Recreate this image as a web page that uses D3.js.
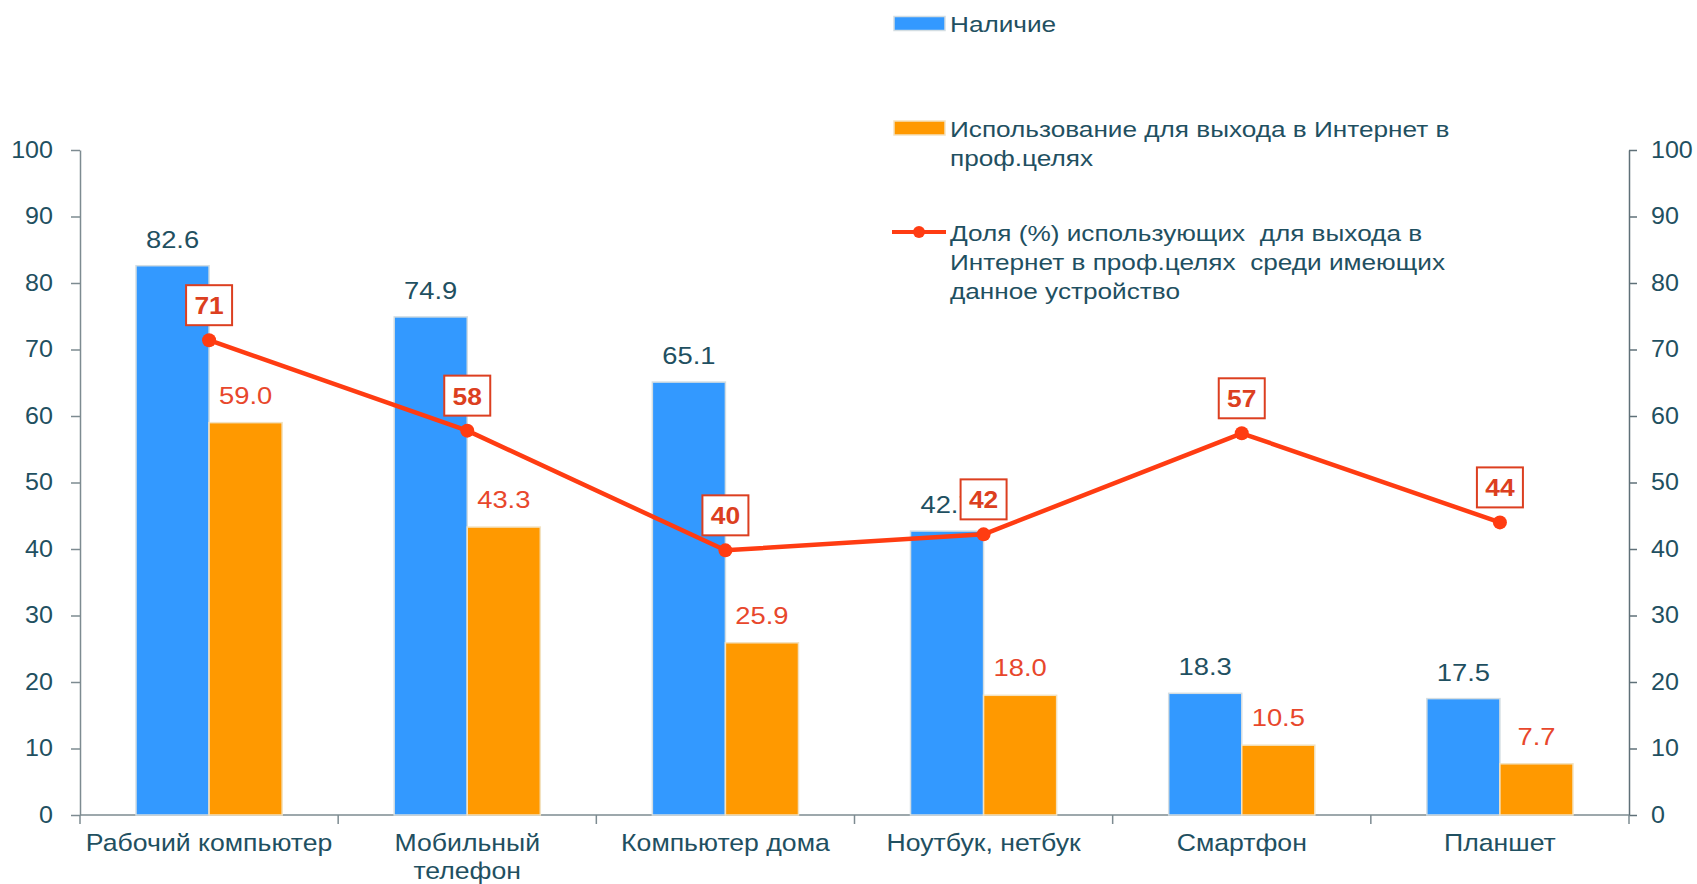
<!DOCTYPE html>
<html>
<head>
<meta charset="utf-8">
<script src="https://cdn.jsdelivr.net/npm/d3@7"></script>
<style>
  html, body { margin: 0; padding: 0; background: #fff; }
  svg { display: block; font-family: "Liberation Sans", Arial, sans-serif; }
  .axis path, .axis line { stroke: #7d8b91; stroke-width: 1.5; }
  .axis text { fill: #1f5061; font-size: 23px; }
</style>
</head>
<body>
<div id="chartView"></div>
<script>
var categories = ['Рабочий компьютер', 'Мобильный\nтелефон', 'Компьютер дома', 'Ноутбук, нетбук', 'Смартфон', 'Планшет'];
var haveValues = [82.6, 74.9, 65.1, 42.7, 18.3, 17.5];
var useValues = [59.0, 43.3, 25.9, 18.0, 10.5, 7.7];
var shareValues = [71.4, 57.8, 39.8, 42.2, 57.4, 44.0];
var yTicks = [0, 10, 20, 30, 40, 50, 60, 70, 80, 90, 100];
var legendLabels = [
    ['Наличие'],
    ['Использование для выхода в Интернет в', 'проф.целях'],
    ['Доля (%) использующих  для выхода в', 'Интернет в проф.целях  среди имеющих', 'данное устройство']
];

var colors = { have: '#3399ff', use: '#ff9900', line: '#ff3c12', box: '#dc3f20', text: '#1f5061', useText: '#e8472c' };

var width = 1697, height = 884;
var margin = { top: 150, right: 68, bottom: 69, left: 80 };
var chartWidth = width - margin.left - margin.right;
var chartHeight = height - margin.top - margin.bottom;

// the source picture is a bit stretched sideways, so texts get a horizontal scale
function stretch(x, y, s) {
    return 'translate(' + x + ',' + y + ') scale(' + s + ',1)';
}

var svg = d3.select('#chartView').append('svg')
    .attr('width', width)
    .attr('height', height);

var g = svg.append('g').attr('transform', 'translate(' + margin.left + ',' + margin.top + ')');

var xScale = d3.scaleBand().domain(d3.range(categories.length)).range([0, chartWidth]);
var xInner = d3.scaleBand().domain(['have', 'use']).range([0, xScale.bandwidth() * 0.566]);
var groupOffset = (xScale.bandwidth() - xInner.range()[1]) / 2;
var yScale = d3.scaleLinear().domain([0, 100]).range([chartHeight, 0]);

// axes
var yLeft = g.append('g').attr('class', 'axis')
    .call(d3.axisLeft(yScale).tickValues(yTicks).tickSize(9).tickPadding(18).tickSizeOuter(0));
var yRight = g.append('g').attr('class', 'axis').attr('transform', 'translate(' + chartWidth + ',0)')
    .call(d3.axisRight(yScale).tickValues(yTicks).tickSize(8).tickPadding(14).tickSizeOuter(0));
yRight.select('.domain').style('stroke', '#5f7078');
yRight.selectAll('.tick line').style('stroke', '#5f7078');

[yLeft, yRight].forEach(function (ax) {
    ax.selectAll('.tick text').each(function () {
        var t = d3.select(this);
        var x = +t.attr('x');
        t.attr('transform', stretch(x, 0, 1.09)).attr('x', 0);
    });
});

var xAxis = g.append('g').attr('class', 'axis').attr('transform', 'translate(0,' + chartHeight + ')');
xAxis.append('line').attr('x1', 0).attr('x2', chartWidth);
xAxis.selectAll('.xtick').data(d3.range(categories.length + 1)).enter()
    .append('line').attr('class', 'xtick')
    .attr('x1', function (d) { return d * xScale.step(); })
    .attr('x2', function (d) { return d * xScale.step(); })
    .attr('y1', 0).attr('y2', 9);

var catLabels = xAxis.selectAll('.cat').data(categories).enter()
    .append('text').attr('class', 'cat')
    .attr('text-anchor', 'middle')
    .attr('transform', function (d, i) { return stretch(xScale(i) + xScale.bandwidth() / 2, 36, 1.11); })
    .style('font-size', '24px').style('fill', colors.text);
catLabels.selectAll('tspan').data(function (d) { return d.split('\n'); }).enter()
    .append('tspan').attr('x', 0).attr('dy', function (d, i) { return i ? 28 : 0; })
    .text(function (d) { return d; });

// bars
var groups = g.selectAll('.group').data(categories).enter()
    .append('g').attr('class', 'group')
    .attr('transform', function (d, i) { return 'translate(' + (xScale(i) + groupOffset) + ',0)'; });

groups.append('rect')
    .attr('x', xInner('have')).attr('width', xInner.bandwidth())
    .attr('y', function (d, i) { return yScale(haveValues[i]); })
    .attr('height', function (d, i) { return chartHeight - yScale(haveValues[i]); })
    .attr('fill', colors.have).attr('stroke', '#d3dde2').attr('stroke-width', 1.5);

groups.append('rect')
    .attr('x', xInner('use')).attr('width', xInner.bandwidth())
    .attr('y', function (d, i) { return yScale(useValues[i]); })
    .attr('height', function (d, i) { return chartHeight - yScale(useValues[i]); })
    .attr('fill', colors.use).attr('stroke', '#f3e2c0').attr('stroke-width', 1.5);

groups.append('text')
    .attr('transform', function (d, i) {
        return stretch(xInner('have') + xInner.bandwidth() / 2, yScale(haveValues[i]) - 18, 1.14);
    })
    .attr('text-anchor', 'middle').style('font-size', '24px').style('fill', colors.text)
    .text(function (d, i) { return haveValues[i].toFixed(1); });

groups.append('text')
    .attr('transform', function (d, i) {
        return stretch(xInner('use') + xInner.bandwidth() / 2, yScale(useValues[i]) - 19, 1.14);
    })
    .attr('text-anchor', 'middle').style('font-size', '24px').style('fill', colors.useText)
    .text(function (d, i) { return useValues[i].toFixed(1); });

// share line
var cx = function (d, i) { return xScale(i) + xScale.bandwidth() / 2; };
var line = d3.line().x(cx).y(function (d) { return yScale(d); });

g.append('path').datum(shareValues)
    .attr('d', line).attr('fill', 'none')
    .attr('stroke', colors.line).attr('stroke-width', 4.5).attr('stroke-linejoin', 'round');

g.selectAll('.dot').data(shareValues).enter()
    .append('circle').attr('class', 'dot')
    .attr('cx', cx).attr('cy', function (d) { return yScale(d); })
    .attr('r', 7).attr('fill', colors.line);

var boxes = g.selectAll('.box').data(shareValues).enter()
    .append('g').attr('class', 'box')
    .attr('transform', function (d, i) { return 'translate(' + cx(d, i) + ',' + (yScale(d) - 35) + ')'; });
boxes.append('rect')
    .attr('x', -23).attr('y', -20).attr('width', 46).attr('height', 40)
    .attr('fill', '#fff').attr('stroke', colors.box).attr('stroke-width', 2);
boxes.append('text')
    .attr('text-anchor', 'middle').attr('transform', stretch(0, 9, 1.1))
    .style('font-size', '24px').style('font-weight', 'bold').style('fill', colors.box)
    .text(function (d) { return Math.round(d); });

// legend
var legendY = [23.5, 128, 232];
var legend = svg.append('g').attr('transform', 'translate(894,0)');
var items = legend.selectAll('.item').data(legendLabels).enter()
    .append('g').attr('class', 'item')
    .attr('transform', function (d, i) { return 'translate(0,' + legendY[i] + ')'; });

items.filter(function (d, i) { return i < 2; }).append('rect')
    .attr('x', 0).attr('y', -7).attr('width', 51).attr('height', 14)
    .attr('fill', function (d, i) { return i ? colors.use : colors.have; })
    .attr('stroke', function (d, i) { return i ? '#f3e2c0' : '#d3dde2'; }).attr('stroke-width', 1.5);

var lineItem = items.filter(function (d, i) { return i === 2; });
lineItem.append('line').attr('x1', -2).attr('x2', 52).attr('y1', 0).attr('y2', 0)
    .attr('stroke', colors.line).attr('stroke-width', 4);
lineItem.append('circle').attr('cx', 25).attr('cy', 0).attr('r', 6).attr('fill', colors.line);

items.append('text')
    .attr('transform', stretch(56, 8.5, 1.19))
    .style('font-size', '22px').style('fill', colors.text)
    .selectAll('tspan').data(function (d) { return d; }).enter()
    .append('tspan').attr('x', 0).attr('dy', function (d, i) { return i ? 29.5 : 0; })
    .style('white-space', 'pre')
    .text(function (d) { return d; });
</script>
</body>
</html>
